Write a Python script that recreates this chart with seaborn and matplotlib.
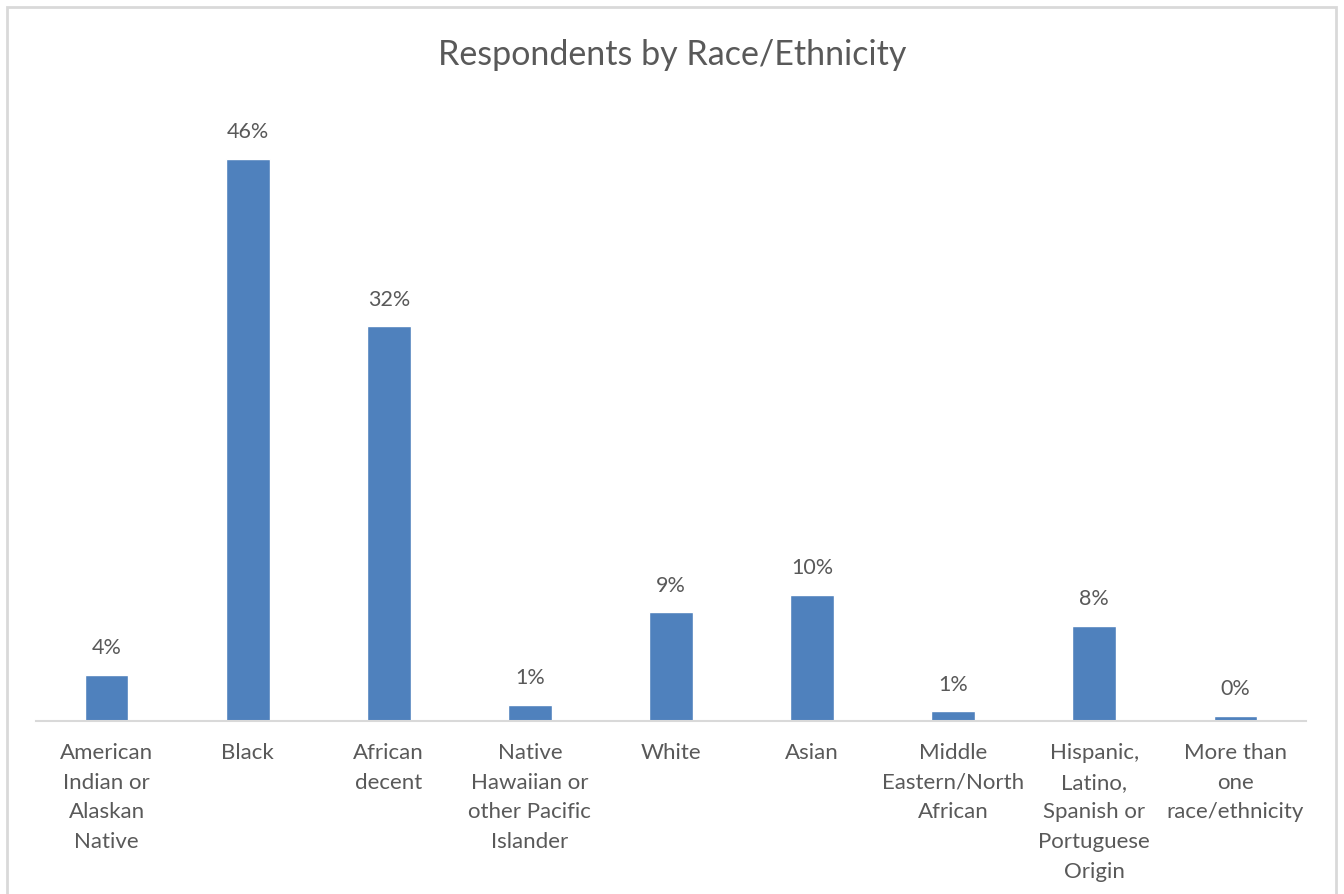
import matplotlib
matplotlib.use("Agg")
import matplotlib.pyplot as plt
from matplotlib.patches import Rectangle
import seaborn as sns
import pandas as pd

# Survey shares (percent of respondents)
categories = [
    "American\nIndian or\nAlaskan\nNative",
    "Black",
    "African\ndecent",
    "Native\nHawaiian or\nother Pacific\nIslander",
    "White",
    "Asian",
    "Middle\nEastern/North\nAfrican",
    "Hispanic,\nLatino,\nSpanish or\nPortuguese\nOrigin",
    "More than\none\nrace/ethnicity",
]
shares = [3.8, 46.0, 32.3, 1.3, 8.9, 10.3, 0.8, 7.8, 0.4]

df = pd.DataFrame({"category": categories, "share": shares})

sns.set_theme(style="white")
plt.rcParams["font.family"] = ["Lato", "DejaVu Sans"]

text_color = "#595959"
bar_color = "#4F81BD"

fig = plt.figure(figsize=(13.44, 8.94), dpi=100)
ax = fig.add_axes([0.0268, 0.1935, 0.9449, 0.6835])

sns.barplot(data=df, x="category", y="share", color=bar_color,
            width=0.31, saturation=1, ax=ax)

ax.set_ylim(0, 50)
ax.set_xlim(-0.5, len(categories) - 0.5)
ax.set_yticks([])
ax.set_xlabel("")
ax.set_ylabel("")
for side in ["top", "right", "left"]:
    ax.spines[side].set_visible(False)
ax.spines["bottom"].set_color("#D9D9D9")
ax.spines["bottom"].set_linewidth(1.5)

ax.tick_params(axis="x", length=0, pad=16, labelsize=16, labelcolor=text_color)
for lbl in ax.get_xticklabels():
    lbl.set_linespacing(1.6)
    lbl.set_verticalalignment("top")

for i, v in enumerate(shares):
    ax.annotate(f"{v:.0f}%", (i, v), xytext=(0, 12), textcoords="offset points",
                ha="center", va="bottom", fontsize=15.5, color=text_color)

fig.text(0.5, 0.938, "Respondents by Race/Ethnicity", ha="center", va="center",
         fontsize=24.5, color=text_color)

# Chart area frame
fig.patches.append(Rectangle((7 / 1344, -0.05), 1329 / 1344, 1 - 7 / 894 + 0.05,
                             transform=fig.transFigure, fill=False,
                             edgecolor="#D9D9D9", linewidth=2))

fig.savefig("out.png", dpi=100, facecolor="white")
